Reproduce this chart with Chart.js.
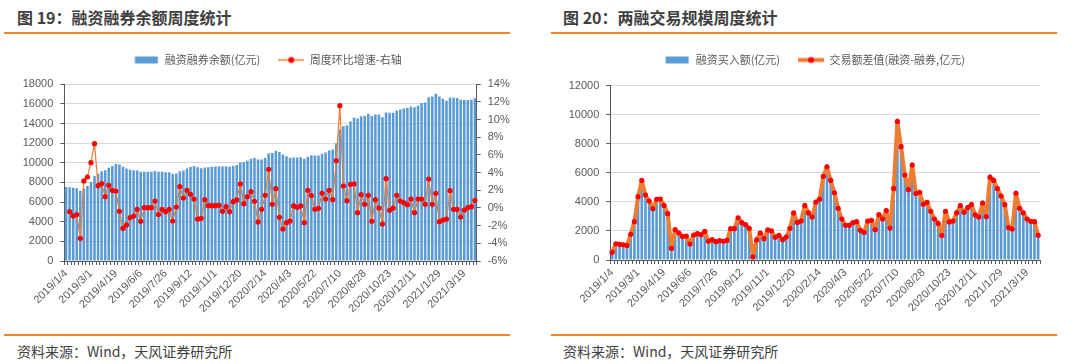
<!DOCTYPE html>
<html>
<head>
<meta charset="utf-8">
<script src="https://cdn.jsdelivr.net/npm/chart.js@4.4.0/dist/chart.umd.min.js"></script>
<style>
  body { margin: 0; background: #fff; width: 1080px; height: 364px; position: relative; overflow: hidden;
         font-family: "Noto Sans CJK SC", sans-serif; }
  .title { position: absolute; top: 6px; font-size: 16px; font-weight: bold; color: #3f3f3f; line-height: 22px; white-space: nowrap; }
  .rule { position: absolute; height: 2px; background: #f0882a; }
  .src { position: absolute; top: 341px; font-size: 14px; color: #404040; line-height: 20px; white-space: nowrap; }
  .box { position: absolute; top: 36px; }
  canvas { display: block; }
</style>
</head>
<body>
<div class="title" style="left:17px">图 19：融资融券余额周度统计</div>
<div class="title" style="left:563px">图 20：两融交易规模周度统计</div>
<div class="rule" style="left:4px;top:32px;width:506px"></div>
<div class="rule" style="left:551px;top:32px;width:506px"></div>

<div class="box" style="left:0"><canvas id="left" width="540" height="285"></canvas></div>
<div class="box" style="left:540px"><canvas id="right" width="540" height="284"></canvas></div>

<div class="rule" style="left:4px;top:334px;width:506px"></div>
<div class="rule" style="left:551px;top:334px;width:506px"></div>
<div class="src" style="left:17px">资料来源：Wind，天风证券研究所</div>
<div class="src" style="left:563px">资料来源：Wind，天风证券研究所</div>

<script>
// weekly dates (week end)
const weeks = [
  '2019/1/4','2019/1/11','2019/1/18','2019/1/25','2019/2/1','2019/2/15','2019/2/22','2019/3/1','2019/3/8','2019/3/15',
  '2019/3/22','2019/3/29','2019/4/4','2019/4/12','2019/4/19','2019/4/26','2019/4/30','2019/5/10','2019/5/17','2019/5/24',
  '2019/5/31','2019/6/6','2019/6/14','2019/6/21','2019/6/28','2019/7/5','2019/7/12','2019/7/19','2019/7/26','2019/8/2',
  '2019/8/9','2019/8/16','2019/8/23','2019/8/30','2019/9/6','2019/9/12','2019/9/20','2019/9/27','2019/9/30','2019/10/11',
  '2019/10/18','2019/10/25','2019/11/1','2019/11/8','2019/11/15','2019/11/22','2019/11/29','2019/12/6','2019/12/13','2019/12/20',
  '2019/12/27','2020/1/3','2020/1/10','2020/1/17','2020/1/23','2020/2/7','2020/2/14','2020/2/21','2020/2/28','2020/3/6',
  '2020/3/13','2020/3/20','2020/3/27','2020/4/3','2020/4/10','2020/4/17','2020/4/24','2020/4/30','2020/5/8','2020/5/15',
  '2020/5/22','2020/5/29','2020/6/5','2020/6/12','2020/6/19','2020/6/24','2020/7/3','2020/7/10','2020/7/17','2020/7/24',
  '2020/7/31','2020/8/7','2020/8/14','2020/8/21','2020/8/28','2020/9/4','2020/9/11','2020/9/18','2020/9/25','2020/10/9',
  '2020/10/16','2020/10/23','2020/10/30','2020/11/6','2020/11/13','2020/11/20','2020/11/27','2020/12/4','2020/12/11','2020/12/18',
  '2020/12/25','2020/12/31','2021/1/8','2021/1/15','2021/1/22','2021/1/29','2021/2/5','2021/2/10','2021/2/19','2021/2/26',
  '2021/3/5','2021/3/12','2021/3/19','2021/3/26','2021/4/2','2021/4/9'
];

// 融资融券余额 (亿元)
const balance = [
  7550, 7520, 7450, 7400, 7150, 7380, 7650, 8050, 8650, 8880,
  9130, 9250, 9490, 9680, 9870, 9830, 9610, 9420, 9320, 9240,
  9220, 9080, 9090, 9090, 9100, 9170, 9100, 9090, 9050, 9040,
  8900, 8910, 9130, 9230, 9420, 9570, 9670, 9550, 9440, 9530,
  9560, 9590, 9620, 9650, 9620, 9640, 9600, 9680, 9770, 10040,
  10090, 10220, 10410, 10500, 10340, 10330, 10480, 10940, 10990, 11230,
  11110, 10850, 10670, 10520, 10540, 10550, 10580, 10410, 10620, 10770,
  10750, 10750, 10930, 11040, 11260, 11370, 12000, 13390, 13720, 13840,
  14210, 14590, 14520, 14740, 14800, 15010, 14780, 14920, 14920, 14650,
  15140, 15100, 15100, 15320, 15440, 15530, 15590, 15750, 15660, 15820,
  16090, 16150, 16680, 16750, 17030, 16760, 16540, 16330, 16650, 16620,
  16600, 16430, 16390, 16400, 16430, 16570
];

// 周度环比增速 (%), right axis
const balanceWoW = [
  null, -0.42, -0.91, -0.75, -3.43, 3.06, 3.51, 5.13, 7.28, 2.53,
  2.75, 1.28, 2.57, 2.0, 1.92, -0.38, -2.3, -1.92, -1.09, -0.91,
  -0.15, -1.51, 0.04, 0.04, 0.04, 0.79, -0.75, -0.15, -0.42, -0.15,
  -1.47, 0.11, 2.42, 1.13, 2.0, 1.55, 1.02, -1.25, -1.17, 0.94,
  0.26, 0.26, 0.26, 0.3, -0.38, 0.15, -0.42, 0.72, 0.91, 2.72,
  0.49, 1.28, 1.85, 0.75, -1.58, -0.15, 1.43, 4.38, 0.42, 2.19,
  -1.06, -2.38, -1.66, -1.47, 0.23, 0.08, 0.23, -1.66, 2.0, 1.4,
  -0.15, -0.04, 1.66, 1.02, 2.0, 0.94, 5.36, 11.58, 2.49, 0.83,
  2.68, 2.72, -0.53, 1.51, 0.42, 1.43, -1.51, 0.94, 0, -1.81,
  3.32, -0.26, 0, 1.43, 0.79, 0.6, 0.38, 1.02, -0.53, 1.02,
  1.02, 0.42, 3.28, 0.42, 1.66, -1.55, -1.36, -1.25, 1.96, -0.15,
  -0.15, -1.02, -0.23, 0.04, 0.15, 0.87
];

// 融资买入额 (亿元)
const financeBuy = [
  580, 1180, 1140, 1100, 1040, 1830, 2710, 4440, 5560, 4550,
  4140, 3600, 4260, 4280, 3830, 3260, 860, 2160, 1920, 1670,
  1710, 1160, 1780, 1880, 1800, 2040, 1350, 1460, 1320, 1390,
  1350, 1410, 2240, 2240, 3000, 2650, 2510, 2260, 260, 1450,
  1940, 1540, 2150, 2080, 1630, 1780, 1470, 1660, 2270, 3340,
  2680, 2780, 3870, 3340, 3060, 4100, 4300, 5900, 6580, 5620,
  4760, 3680, 2930, 2490, 2490, 2680, 2750, 2140, 2000, 2790,
  2850, 2200, 3240, 2940, 3530, 2310, 5080, 9720, 7970, 6010,
  4990, 6720, 4720, 4810, 3970, 4110, 3480, 2950, 2640, 1790,
  3510, 2760, 2830, 3400, 3910, 3440, 3770, 3990, 3260, 3120,
  4100, 3140, 5900, 5680, 5100, 4580, 3980, 2370, 2270, 4790,
  3730, 3400, 2970, 2810, 2790, 1830
];

// 交易额差值 (融资-融券, 亿元)
const tradeGap = [
  530, 1120, 1080, 1050, 990, 1770, 2640, 4360, 5480, 4470,
  4060, 3530, 4180, 4200, 3760, 3190, 800, 2090, 1860, 1610,
  1650, 1100, 1720, 1810, 1740, 1970, 1290, 1400, 1260, 1330,
  1290, 1350, 2160, 2160, 2910, 2570, 2430, 2180, 210, 1380,
  1860, 1470, 2070, 2000, 1560, 1700, 1400, 1580, 2180, 3240,
  2590, 2680, 3760, 3240, 2960, 3990, 4180, 5760, 6420, 5480,
  4630, 3560, 2820, 2390, 2390, 2570, 2640, 2040, 1900, 2680,
  2730, 2090, 3120, 2820, 3400, 2200, 4930, 9540, 7800, 5850,
  4840, 6540, 4570, 4660, 3830, 3970, 3350, 2820, 2520, 1680,
  3350, 2620, 2680, 3240, 3740, 3280, 3600, 3810, 3100, 2960,
  3920, 2980, 5690, 5480, 4910, 4400, 3810, 2230, 2130, 4590,
  3560, 3240, 2820, 2660, 2640, 1700
];

// axis ranges: [min, max, step]
const balanceAxis = [0, 18000, 2000];
const wowAxis = [-6, 14, 2];
const tradeAxis = [0, 12000, 2000];
const labelEvery = 7;

const BLUE = '#5b9bd5', ORANGE = '#ed7d31', RED = '#ff0000', AXIS = '#595959', GRID = '#d9d9d9';

Chart.defaults.font.family = '"Liberation Sans", "Noto Sans CJK SC", sans-serif';
Chart.defaults.font.size = 11;
Chart.defaults.color = AXIS;

function icon(draw) {
  const c = document.createElement('canvas');
  c.width = 26; c.height = 9;
  draw(c.getContext('2d'));
  return c;
}
const barIcon = icon(g => { g.fillStyle = BLUE; g.fillRect(1.5, 1, 23, 7); });
function lineIcon(w) {
  return icon(g => {
    g.strokeStyle = ORANGE; g.lineWidth = w;
    g.beginPath(); g.moveTo(0, 4.5); g.lineTo(26, 4.5); g.stroke();
    g.fillStyle = RED; g.beginPath(); g.arc(13, 4.5, 3, 0, Math.PI * 2); g.fill();
  });
}

// pushes the plot area down below the legend
const legendGap = {
  id: 'legendGap',
  beforeInit(chart, args, opts) {
    const fit = chart.legend.fit;
    chart.legend.fit = function () { fit.call(this); this.height += opts.extra; };
  }
};

function legendOpts(icons) {
  return {
    position: 'top',
    labels: {
      usePointStyle: true,
      pointStyleWidth: 26,
      padding: 18,
      font: { size: 11, family: '"Noto Sans CJK SC", sans-serif' },
      color: AXIS,
      sort: (a, b) => a.datasetIndex - b.datasetIndex,
      generateLabels: chart => Chart.defaults.plugins.legend.labels.generateLabels(chart)
        .map(it => Object.assign(it, { pointStyle: icons[it.datasetIndex] }))
    }
  };
}

function xAxis() {
  return {
    type: 'category',
    grid: { display: true, drawOnChartArea: false, offset: true, tickLength: 4, tickColor: AXIS },
    border: { color: AXIS },
    ticks: {
      autoSkip: false, minRotation: 45, maxRotation: 45, padding: 2,
      callback: function (v, i) { return i % labelEvery === 0 ? this.getLabelForValue(v) : ''; }
    },
    afterFit: s => { s.height = 60; }
  };
}

function yAxis(range, width, pos, fmt, grid) {
  return {
    position: pos,
    min: range[0], max: range[1],
    grid: { display: true, drawOnChartArea: grid, color: GRID, tickLength: 4, tickColor: AXIS },
    border: { color: AXIS },
    ticks: { stepSize: range[2], padding: 7, callback: fmt },
    afterFit: s => { s.width = width; }
  };
}

new Chart(document.getElementById('left'), {
  type: 'bar',
  data: {
    labels: weeks,
    datasets: [
      { type: 'bar', label: '融资融券余额(亿元)', data: balance, backgroundColor: BLUE,
        barPercentage: 0.72, categoryPercentage: 1, yAxisID: 'y', order: 1 },
      { type: 'line', label: '周度环比增速-右轴', data: balanceWoW, borderColor: ORANGE, borderWidth: 1.2,
        borderJoinStyle: 'round', pointRadius: 2.6, pointBackgroundColor: RED, pointBorderWidth: 0,
        tension: 0, yAxisID: 'y1', order: 0 }
    ]
  },
  options: {
    responsive: false, animation: false, events: [],
    layout: { padding: { top: 0.5, left: 8.3, right: 13.3, bottom: 0 } },
    plugins: { legend: legendOpts([barIcon, lineIcon(1.5)]), tooltip: { enabled: false }, legendGap: { extra: 8.8 } },
    scales: {
      x: xAxis(),
      y: yAxis(balanceAxis, 56, 'left', v => v, true),
      y1: yAxis(wowAxis, 50, 'right', v => v + '%', false)
    }
  },
  plugins: [legendGap]
});

new Chart(document.getElementById('right'), {
  type: 'bar',
  data: {
    labels: weeks,
    datasets: [
      { type: 'bar', label: '融资买入额(亿元)', data: financeBuy, backgroundColor: BLUE,
        barPercentage: 0.72, categoryPercentage: 1, order: 1 },
      { type: 'line', label: '交易额差值(融资-融券,亿元)', data: tradeGap, borderColor: ORANGE, borderWidth: 4,
        borderJoinStyle: 'round', borderCapStyle: 'round', pointRadius: 2.6, pointBackgroundColor: RED,
        pointBorderWidth: 0, tension: 0, order: 0 }
    ]
  },
  options: {
    responsive: false, animation: false, events: [],
    layout: { padding: { top: 0.5, left: 9, right: 0, bottom: 0 } },
    plugins: { legend: legendOpts([barIcon, lineIcon(4)]), tooltip: { enabled: false }, legendGap: { extra: 10.2 } },
    scales: {
      x: xAxis(),
      y: yAxis(tradeAxis, 61.3, 'left', v => v, true),
      // empty right-hand spacer so the plot ends where the reference does
      pad: { position: 'right', display: true, grid: { display: false }, border: { display: false },
             ticks: { display: false }, afterFit: s => { s.width = 40; } }
    }
  },
  plugins: [legendGap]
});
</script>
</body>
</html>
